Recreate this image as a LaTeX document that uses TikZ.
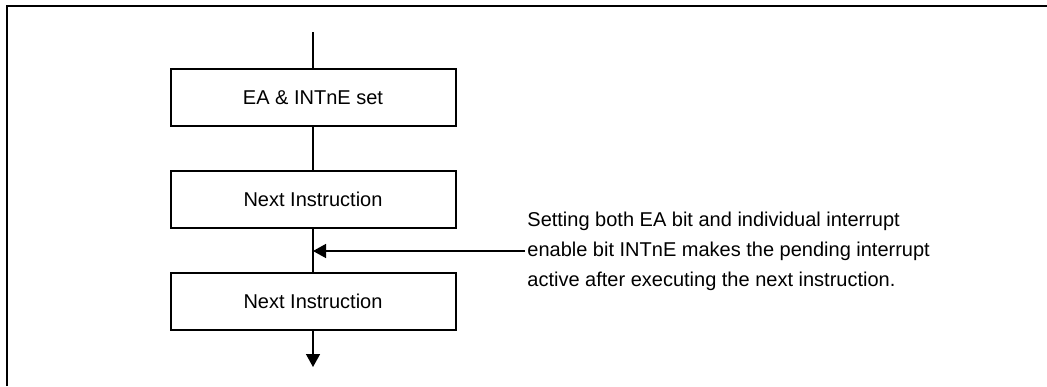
\documentclass[tikz,border=0pt]{standalone}
\usepackage{fontspec}
\setmainfont{Liberation Sans}
\usetikzlibrary{arrows.meta}
\tikzset{stepbox/.style={draw,line width=1pt,minimum width=142.5pt,minimum height=28.5pt,inner sep=0pt,font=\fontsize{10}{12}\selectfont}}
\tikzset{flow/.style={line width=0.7pt}}
\tikzset{flowarrow/.style={-{Triangle[length=6.5pt,width=7pt]}}}

\begin{document}
\begin{tikzpicture}[x=0.5pt,y=-0.5pt]
      \useasboundingbox (0,0) rectangle (1047,386);
      \draw[line width=1pt] (7,386) -- (7,6) -- (1047,6);

      \coordinate (top) at (313,32);
      \node[stepbox] (set) at (313,97.5) {EA \& INTnE set};
      \node[stepbox] (next1) at (313,199.5) {Next Instruction};
      \node[stepbox] (next2) at (313,301.5) {Next Instruction};
      \coordinate (join) at (313,251);
      \coordinate (out) at (313,367);
      \coordinate (noteend) at (525,251);
      \node[anchor=west,align=left,inner sep=1pt,font=\fontsize{10}{15}\selectfont] (note) at (noteend)
        {Setting both EA bit and individual interrupt\\enable bit INTnE makes the pending interrupt\\active after executing the next instruction.};

      \draw[flow] (top) -- (set);
      \draw[flow] (set) -- (next1);
      \draw[flow] (next1) -- (next2);
      \draw[flow,flowarrow] (noteend) -- (join);
      \draw[flow,flowarrow] (next2) -- (out);
\end{tikzpicture}
\end{document}
